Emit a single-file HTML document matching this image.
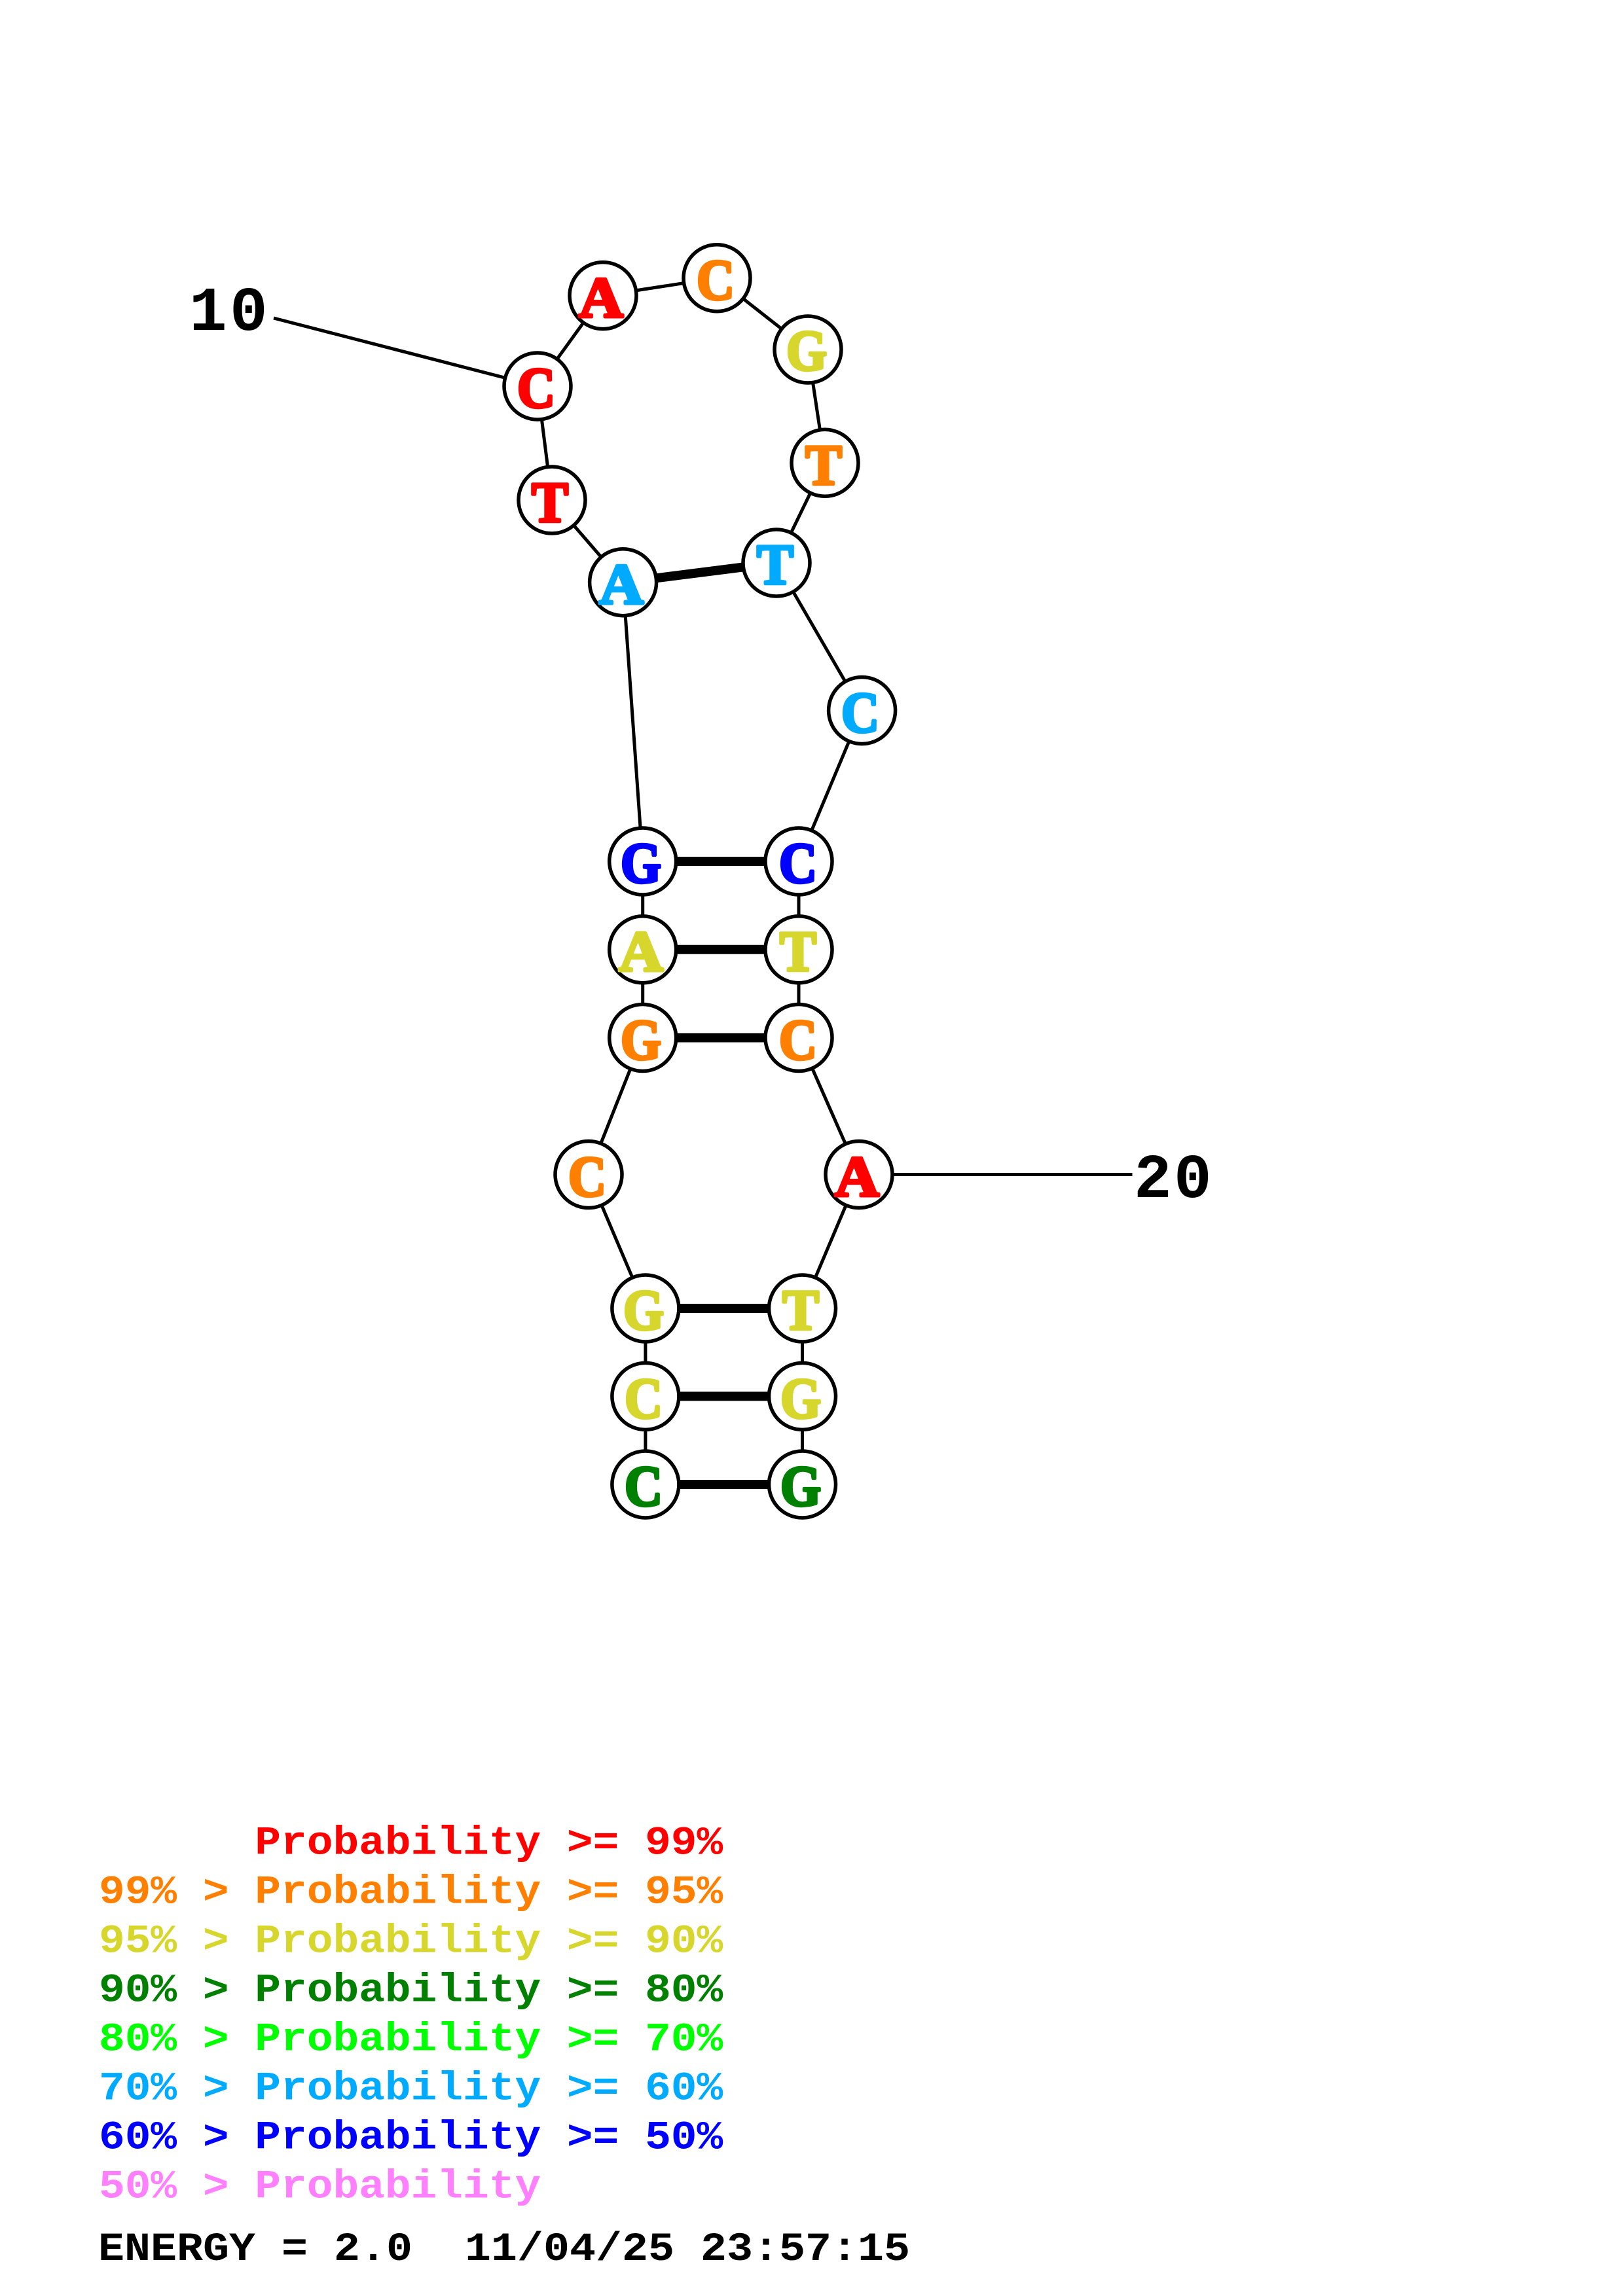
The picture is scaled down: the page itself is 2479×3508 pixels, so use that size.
<!DOCTYPE html>
<html><head><meta charset="utf-8"><title>RNA structure</title>
<style>
html,body{margin:0;padding:0;background:#fff}
svg{display:block}
.n{font-family:"Liberation Serif",serif;font-weight:bold;font-size:88px;text-anchor:middle;stroke-width:4.5px;stroke-linejoin:round}
.l{font-family:"Liberation Mono",monospace;font-weight:bold;font-size:66.2px;white-space:pre}
.d{font-family:"Liberation Mono",monospace;font-weight:bold;font-size:96px;fill:#000}
.R{fill:#f00;stroke:#f00}.O{fill:#ff8000;stroke:#ff8000}.Y{fill:#d6d62c;stroke:#d6d62c}.D{fill:#008000;stroke:#008000}.B{fill:#00aaff;stroke:#00aaff}.U{fill:#00f;stroke:#00f}
</style></head><body>
<svg width="2479" height="3508" viewBox="0 0 2479 3508" xmlns="http://www.w3.org/2000/svg">
<rect width="2479" height="3508" fill="#fff"/>
<g stroke="#000" stroke-width="5" fill="none">
<path d="M418 486L821 590L921 451.6L1095 424.8L1234 534L1260 707.3L1186 860L1316.6 1085.5L1220 1316V1585.5L1312 1794.5L1225.5 1999V2268"/>
<path d="M821 590L843 764L951.6 889.7L981.7 1316V1585.5L899 1794.5L985.9 1999V2268"/>
<path d="M1312 1794.5H1729.5"/>
<g stroke-width="14">
<path d="M951.6 889.7L1186 860"/>
<path d="M981.7 1316H1220M981.7 1450.8H1220M981.7 1585.5H1220"/>
<path d="M985.9 1999H1225.5M985.9 2133.4H1225.5M985.9 2268H1225.5"/>
</g>
</g>
<g fill="#fff" stroke="#000" stroke-width="5.5">
<circle cx="821" cy="590" r="51"/><circle cx="921" cy="451.6" r="51"/><circle cx="1095" cy="424.8" r="51"/><circle cx="1234" cy="534" r="51"/><circle cx="1260" cy="707.3" r="51"/><circle cx="1186" cy="860" r="51"/><circle cx="951.6" cy="889.7" r="51"/><circle cx="843" cy="764" r="51"/><circle cx="1316.6" cy="1085.5" r="51"/>
<circle cx="981.7" cy="1316" r="51"/><circle cx="1220" cy="1316" r="51"/><circle cx="981.7" cy="1450.8" r="51"/><circle cx="1220" cy="1450.8" r="51"/><circle cx="981.7" cy="1585.5" r="51"/><circle cx="1220" cy="1585.5" r="51"/>
<circle cx="899" cy="1794.5" r="51"/><circle cx="1312" cy="1794.5" r="51"/>
<circle cx="985.9" cy="1999" r="51"/><circle cx="1225.5" cy="1999" r="51"/><circle cx="985.9" cy="2133.4" r="51"/><circle cx="1225.5" cy="2133.4" r="51"/><circle cx="985.9" cy="2268" r="51"/><circle cx="1225.5" cy="2268" r="51"/>
</g>
<g class="n">
<text class="n R" x="819" y="622" textLength="58" lengthAdjust="spacingAndGlyphs">C</text>
<text class="n R" x="918" y="484" textLength="68" lengthAdjust="spacingAndGlyphs">A</text>
<text class="n O" x="1093" y="457" textLength="58" lengthAdjust="spacingAndGlyphs">C</text>
<text class="n Y" x="1232" y="565" textLength="62" lengthAdjust="spacingAndGlyphs">G</text>
<text class="n O" x="1258" y="740" textLength="56" lengthAdjust="spacingAndGlyphs">T</text>
<text class="n B" x="1184" y="892" textLength="56" lengthAdjust="spacingAndGlyphs">T</text>
<text class="n B" x="949" y="922" textLength="68" lengthAdjust="spacingAndGlyphs">A</text>
<text class="n R" x="840" y="797" textLength="56" lengthAdjust="spacingAndGlyphs">T</text>
<text class="n B" x="1314" y="1118" textLength="58" lengthAdjust="spacingAndGlyphs">C</text>
<text class="n U" x="979" y="1348" textLength="62" lengthAdjust="spacingAndGlyphs">G</text>
<text class="n U" x="1219" y="1348" textLength="58" lengthAdjust="spacingAndGlyphs">C</text>
<text class="n Y" x="979" y="1483" textLength="68" lengthAdjust="spacingAndGlyphs">A</text>
<text class="n Y" x="1219" y="1483" textLength="56" lengthAdjust="spacingAndGlyphs">T</text>
<text class="n O" x="979" y="1618" textLength="62" lengthAdjust="spacingAndGlyphs">G</text>
<text class="n O" x="1219" y="1618" textLength="58" lengthAdjust="spacingAndGlyphs">C</text>
<text class="n O" x="897" y="1827" textLength="58" lengthAdjust="spacingAndGlyphs">C</text>
<text class="n R" x="1309" y="1827" textLength="68" lengthAdjust="spacingAndGlyphs">A</text>
<text class="n Y" x="983" y="2031" textLength="62" lengthAdjust="spacingAndGlyphs">G</text>
<text class="n Y" x="1223" y="2031" textLength="56" lengthAdjust="spacingAndGlyphs">T</text>
<text class="n Y" x="983" y="2166" textLength="58" lengthAdjust="spacingAndGlyphs">C</text>
<text class="n Y" x="1223" y="2166" textLength="62" lengthAdjust="spacingAndGlyphs">G</text>
<text class="n D" x="983" y="2300" textLength="58" lengthAdjust="spacingAndGlyphs">C</text>
<text class="n D" x="1223" y="2300" textLength="62" lengthAdjust="spacingAndGlyphs">G</text>
</g>
<text class="d" x="289 351" y="504">10</text>
<text class="d" x="1732 1793" y="1829">20</text>
<g class="l">
<text class="l" transform="translate(151 2832.5) scale(1 .92)" fill="#f00" xml:space="preserve">      Probability &gt;= 99%</text>
<text class="l" transform="translate(151 2907.5) scale(1 .92)" fill="#ff8000" xml:space="preserve">99% &gt; Probability &gt;= 95%</text>
<text class="l" transform="translate(151 2982.5) scale(1 .92)" fill="#d6d62c" xml:space="preserve">95% &gt; Probability &gt;= 90%</text>
<text class="l" transform="translate(151 3057.5) scale(1 .92)" fill="#008000" xml:space="preserve">90% &gt; Probability &gt;= 80%</text>
<text class="l" transform="translate(151 3132.5) scale(1 .92)" fill="#00ff00" xml:space="preserve">80% &gt; Probability &gt;= 70%</text>
<text class="l" transform="translate(151 3207.5) scale(1 .92)" fill="#00aaff" xml:space="preserve">70% &gt; Probability &gt;= 60%</text>
<text class="l" transform="translate(151 3282.5) scale(1 .92)" fill="#0000ff" xml:space="preserve">60% &gt; Probability &gt;= 50%</text>
<text class="l" transform="translate(151 3357.5) scale(1 .92)" fill="#ff80ff" xml:space="preserve">50% &gt; Probability</text>
<text class="l" style="font-size:66.67px" transform="translate(150 3453) scale(1 .92)" fill="#000" xml:space="preserve">ENERGY = 2.0  11/04/25 23:57:15</text>
</g>
</svg>
</body></html>
